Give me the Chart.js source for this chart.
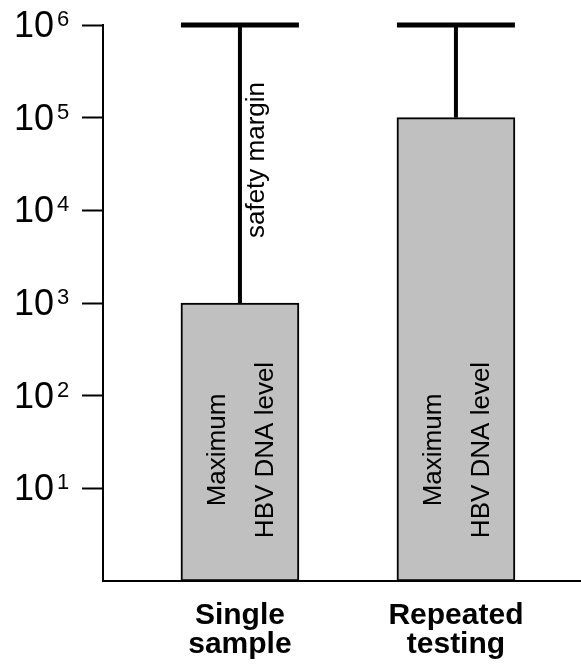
<!DOCTYPE html>
<html>
<head>
<meta charset="utf-8">
<script src="https://cdn.jsdelivr.net/npm/chart.js@4/dist/chart.umd.min.js"></script>
<style>
  body { margin: 0; background: #fff; }
  #wrap { width: 581px; height: 669px; }
</style>
</head>
<body>
<div id="wrap"><canvas id="chart"></canvas></div>
<script>
// data
const categories = [["Single", "sample"], ["Repeated", "testing"]];
const positions = [1, 2];
const hbvLevel = [1e3, 1e5];        // bar tops
const upperLimit = [1e6, 1e6];      // whisker tops
const yTicks = [1e1, 1e2, 1e3, 1e4, 1e5, 1e6];
const barNote = ["Maximum", "HBV DNA level"];
const marginNote = "safety margin";

const FONT = "'Liberation Sans', Arial, sans-serif";

// whiskers + notes + log tick labels
const extras = {
  id: "extras",
  afterDatasetsDraw(chart) {
    const ctx = chart.ctx;
    const y = chart.scales.y;
    const meta = chart.getDatasetMeta(0);
    ctx.save();
    ctx.strokeStyle = "#000";
    meta.data.forEach((bar, i) => {
      const half = bar.width / 2;
      const yTop = y.getPixelForValue(upperLimit[i]);
      ctx.lineWidth = 4;
      ctx.beginPath();
      ctx.moveTo(bar.x, bar.y);
      ctx.lineTo(bar.x, yTop);
      ctx.stroke();
      ctx.lineWidth = 5;
      ctx.beginPath();
      ctx.moveTo(bar.x - half, yTop);
      ctx.lineTo(bar.x + half, yTop);
      ctx.stroke();

      // text inside the bar
      ctx.fillStyle = "#000";
      ctx.font = "26px " + FONT;
      ctx.textAlign = "center";
      ctx.textBaseline = "alphabetic";
      const cy = chart.chartArea.bottom - 131;
      [-15, 33].forEach((dx, k) => {
        ctx.save();
        ctx.translate(bar.x + dx, cy);
        ctx.rotate(-Math.PI / 2);
        ctx.fillText(barNote[k], 0, 0);
        ctx.restore();
      });
    });

    // safety margin label next to the first whisker
    const b0 = meta.data[0];
    const my = y.getPixelForValue(Math.sqrt(hbvLevel[0] * upperLimit[0]));
    ctx.save();
    ctx.translate(b0.x + 24, my - 4);
    ctx.rotate(-Math.PI / 2);
    ctx.font = "26px " + FONT;
    ctx.textAlign = "center";
    ctx.fillText(marginNote, 0, 0);
    ctx.restore();

    // y tick labels 10^n
    ctx.fillStyle = "#000";
    yTicks.forEach(v => {
      const py = y.getPixelForValue(v);
      const exp = String(Math.round(Math.log10(v)));
      ctx.font = "36px " + FONT;
      ctx.textAlign = "right";
      ctx.fillText("10", 54, py + 12);
      ctx.font = "22px " + FONT;
      ctx.textAlign = "left";
      ctx.fillText(exp, 57, py + 1);
    });
    ctx.restore();
  }
};

new Chart(document.getElementById("chart"), {
  type: "bar",
  data: {
    datasets: [{
      data: positions.map((p, i) => ({ x: p, y: hbvLevel[i] })),
      backgroundColor: "#c0c0c0",
      borderColor: "#000",
      borderWidth: 2,
      borderSkipped: false,
      barThickness: 118
    }]
  },
  options: {
    responsive: true,
    maintainAspectRatio: false,
    animation: false,
    layout: { padding: { left: 82, right: 0, top: 25, bottom: 0 } },
    plugins: { legend: { display: false }, tooltip: { enabled: false } },
    scales: {
      x: {
        type: "linear",
        offset: false,
        min: 0.366,
        max: 2.579,
        afterBuildTicks: s => { s.ticks = positions.map(p => ({ value: p })); },
        afterFit: s => { s.height = 88; },
        ticks: {
          autoSkip: false,
          maxRotation: 0,
          padding: 12,
          color: "#000",
          font: { family: FONT, size: 30, weight: "bold", lineHeight: 0.97 },
          callback: v => categories[positions.indexOf(v)] || ""
        },
        grid: { display: false },
        border: { display: true, color: "#000", width: 2 }
      },
      y: {
        type: "logarithmic",
        min: 1,
        max: 1e6,
        afterBuildTicks: s => { s.ticks = yTicks.map(v => ({ value: v })); },
        ticks: { display: false },
        grid: {
          display: true,
          drawOnChartArea: false,
          drawTicks: true,
          tickLength: 21,
          tickWidth: 2,
          tickColor: "#000"
        },
        border: { display: true, color: "#000", width: 2 }
      }
    }
  },
  plugins: [extras]
});
</script>
</body>
</html>
